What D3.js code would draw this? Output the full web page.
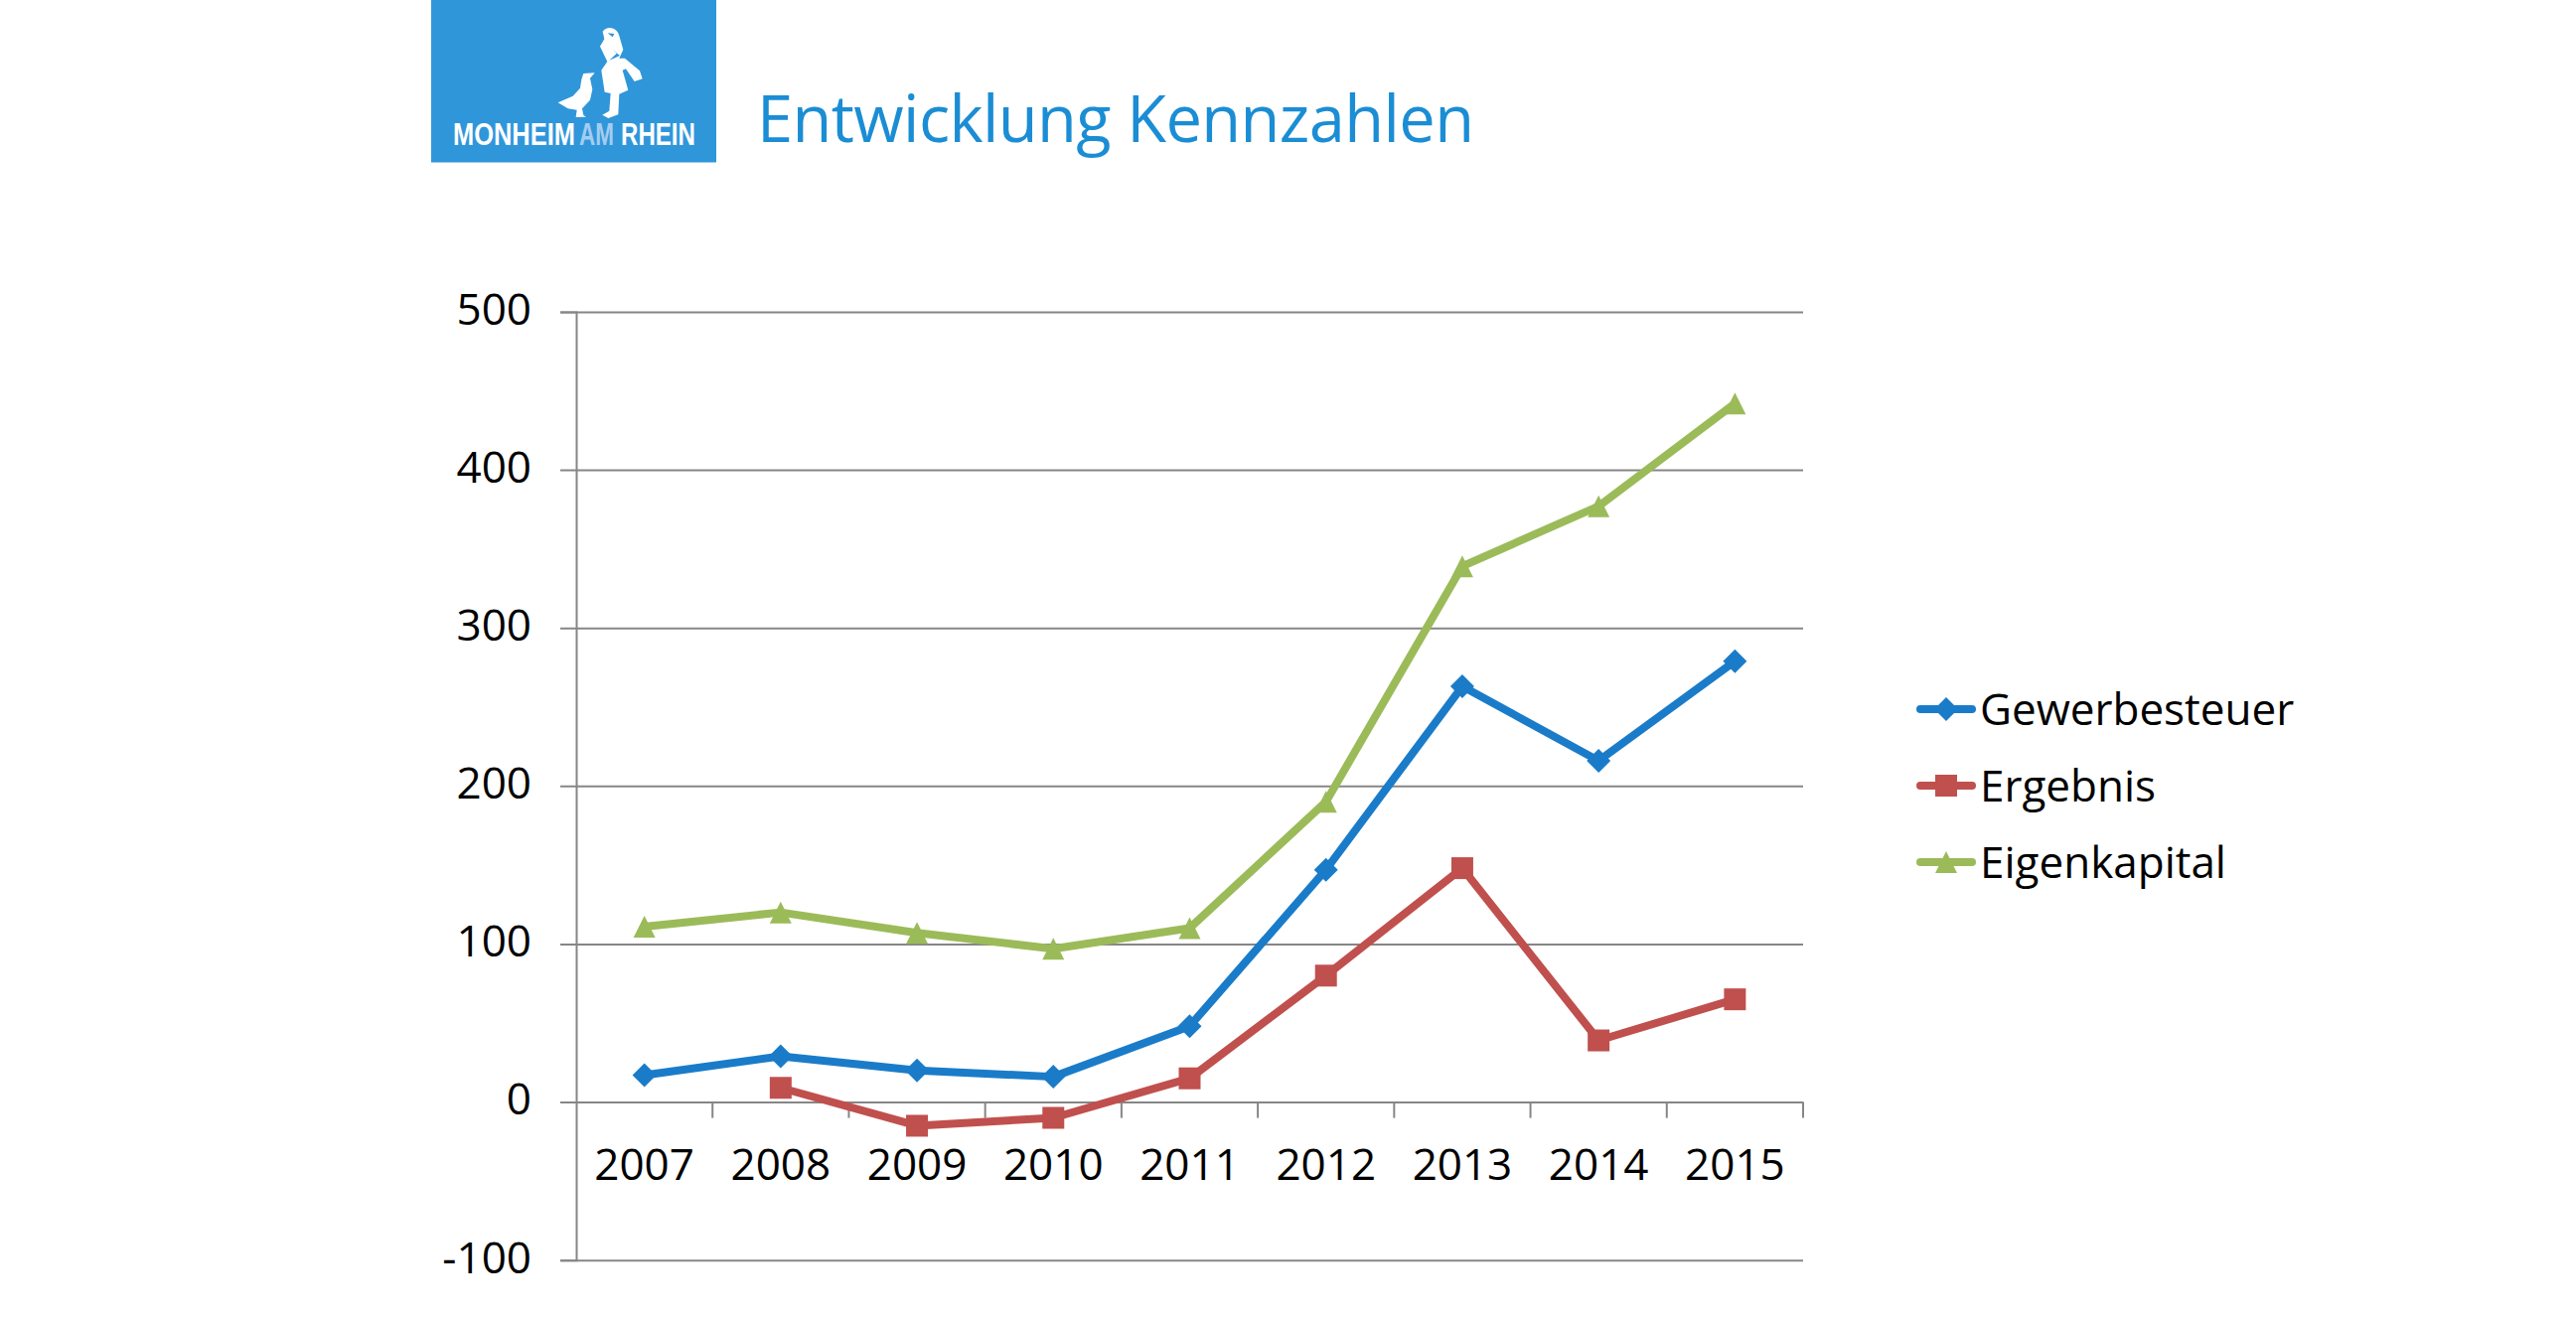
<!DOCTYPE html>
<html>
<head>
<meta charset="utf-8">
<title>Entwicklung Kennzahlen</title>
<script src="https://cdn.jsdelivr.net/npm/d3@7"></script>
<style>
    html, body { margin: 0; padding: 0; background: #fff; }
    svg { display: block; }
    text { font-family: "Open Sans", sans-serif; }
</style>
</head>
<body>
<div id="chart"></div>
<script>
var years = ["2007", "2008", "2009", "2010", "2011", "2012", "2013", "2014", "2015"];
var yTicks = [-100, 0, 100, 200, 300, 400, 500];
var gewerbesteuer = [17, 29, 20, 16, 48, 147, 263, 216, 279];
var ergebnis = [null, 9, -15, -10, 15, 80, 148, 39, 65];
var eigenkapital = [111, 120, 107, 97, 110, 190, 339, 377, 442];
var seriesNames = ["Gewerbesteuer", "Ergebnis", "Eigenkapital"];
var seriesColors = ["#1a7cc9", "#c0504d", "#9bbb59"];

window.onload = function()
{
    main();
};

function main()
{
    var svg = d3.select("#chart").append("svg")
            .attr("width", 2593)
            .attr("height", 1326),
        x = d3.scaleBand().domain(years).range([580, 1815]),
        y = d3.scaleLinear().domain([-100, 500]).range([1268.7, 314]);

    _drawHeader(svg);
    _drawAxes(svg, x, y);

    [gewerbesteuer, ergebnis, eigenkapital].forEach(function(values, i)
    {
        _drawSeries(svg, x, y, values, i);
    });

    _drawLegend(svg);
}

// logo box and slide title
function _drawHeader(svg)
{
    var logo = svg.append("g");

    logo.append("rect")
        .attr("x", 434)
        .attr("y", 0)
        .attr("width", 287)
        .attr("height", 163.5)
        .attr("fill", "#3096da");

    // goose and girl, outlined by hand from the logo
    var art = logo.append("g")
        .attr("transform", "translate(430,0) scale(0.3333)")
        .attr("fill", "#fff");

    art.append("path")
        .attr("d", "M395 310 L440 290 L462 266 L466 240 L472 222 L506 220 L492 236 L499 270 L492 302 L468 328 L472 348 L480 353 L449 354 L452 332 L425 328 Z");
    art.append("path")
        .attr("d", "M530 95 C543 76 574 82 580 108 L592 150 L580 176 L597 176 L642 214 L650 238 L626 246 L600 208 L590 212 L607 272 L580 284 L577 346 L547 357 L529 347 L550 335 L554 282 L536 278 L526 212 L544 186 L522 140 L535 118 Z");
    art.append("path")
        .attr("d", "M545 100 L565 102 L560 112 Z M560 150 L582 168 L550 182 L574 160 Z")
        .attr("fill", "#3096da");

    [
        { text: "MONHEIM", x: 456, len: 123, fill: "#fff" },
        { text: "AM", x: 583, len: 35, fill: "#a4cdf0" },
        { text: "RHEIN", x: 625, len: 75, fill: "#fff" }
    ].forEach(function(w)
    {
        var label = logo.append("text")
            .attr("fill", w.fill)
            .style("font-family", "'Liberation Sans Narrow', 'Liberation Sans', sans-serif")
            .style("font-weight", "700")
            .style("font-size", "32px")
            .text(w.text);

        // squeeze each word to its width in the logo
        label.attr("transform", "translate(" + w.x + ",146) scale(" +
            (w.len / label.node().getComputedTextLength()) + ",1)");
    });

    svg.append("text")
        .attr("x", 762)
        .attr("y", 143)
        .attr("textLength", 722)
        .attr("fill", "#1b8dd4")
        .style("font-size", "65px")
        .text("Entwicklung Kennzahlen");
}

// grid lines, value axis and year axis at zero
function _drawAxes(svg, x, y)
{
    var axisColor = "#868686",
        yAxis = svg.append("g")
            .attr("transform", "translate(580,0)")
            .call(d3.axisLeft(y)
                .tickValues(yTicks)
                .tickFormat(String)   // plain hyphen on -100, like the slide
                .tickSize(16)
                .tickPadding(29));

    yAxis.select(".domain").attr("stroke", axisColor).attr("stroke-width", 2);
    yAxis.selectAll(".tick line")
        .attr("x2", 1815 - 580)
        .attr("x1", -16)
        .attr("stroke", axisColor)
        .attr("stroke-width", 2);
    yAxis.selectAll(".tick text")
        .attr("dy", "0.28em")
        .attr("fill", "#000")
        .style("font-family", "'Open Sans', sans-serif")
        .style("font-size", "44px");

    var xAxis = svg.append("g")
        .attr("transform", "translate(0," + y(0) + ")")
        .call(d3.axisBottom(x).tickSize(0).tickPadding(47));

    xAxis.select(".domain").remove();
    xAxis.selectAll(".tick text")
        .attr("dy", "0.71em")
        .attr("fill", "#000")
        .style("font-family", "'Open Sans', sans-serif")
        .style("font-size", "44px");

    // category ticks sit on the band edges, not the centres
    xAxis.selectAll("line.edge")
        .data(years)
        .enter().append("line")
        .attr("class", "edge")
        .attr("x1", function(d) { return x(d) + x.step(); })
        .attr("x2", function(d) { return x(d) + x.step(); })
        .attr("y1", 0)
        .attr("y2", 16)
        .attr("stroke", axisColor)
        .attr("stroke-width", 2);
}

function _drawSeries(svg, x, y, values, i)
{
    var color = seriesColors[i],
        points = values.map(function(v, k)
        {
            return { year: years[k], value: v };
        }),
        line = d3.line()
            .defined(function(d) { return d.value !== null; })
            .x(function(d) { return x(d.year) + x.bandwidth() / 2; })
            .y(function(d) { return y(d.value); });

    svg.append("path")
        .datum(points)
        .attr("d", line)
        .attr("fill", "none")
        .attr("stroke", color)
        .attr("stroke-width", 8)
        .attr("stroke-linejoin", "round")
        .attr("stroke-linecap", "round");

    svg.selectAll("path.marker" + i)
        .data(points.filter(function(d) { return d.value !== null; }))
        .enter().append("path")
        .attr("class", "marker" + i)
        .attr("d", _markerPath(i))
        .attr("fill", color)
        .attr("transform", function(d)
        {
            return "translate(" + (x(d.year) + x.bandwidth() / 2) + "," + y(d.value) + ")";
        });
}

// excel style markers, all about 22px across
function _markerPath(i)
{
    var r = 11,
        path = d3.path();

    if (i === 0)
    {
        path.moveTo(0, -r - 1);
        path.lineTo(r + 1, 0);
        path.lineTo(0, r + 1);
        path.lineTo(-r - 1, 0);
    }
    else if (i === 1)
    {
        path.rect(-r, -r, 2 * r, 2 * r);
    }
    else
    {
        path.moveTo(0, -r);
        path.lineTo(r, r);
        path.lineTo(-r, r);
    }
    path.closePath();
    return path.toString();
}

function _drawLegend(svg)
{
    var rows = svg.selectAll("g.legend")
        .data(seriesNames)
        .enter().append("g")
        .attr("class", "legend")
        .attr("transform", function(d, i)
        {
            return "translate(1933," + (714 + i * 77) + ")";
        });

    rows.append("line")
        .attr("x1", 0)
        .attr("x2", 52)
        .attr("stroke", function(d, i) { return seriesColors[i]; })
        .attr("stroke-width", 8)
        .attr("stroke-linecap", "round");

    rows.append("path")
        .attr("d", function(d, i) { return _markerPath(i); })
        .attr("transform", "translate(26,0)")
        .attr("fill", function(d, i) { return seriesColors[i]; });

    rows.append("text")
        .attr("x", 60)
        .attr("y", 16)
        .attr("fill", "#000")
        .style("font-size", "44px")
        .text(function(d) { return d; });
}
</script>
</body>
</html>
